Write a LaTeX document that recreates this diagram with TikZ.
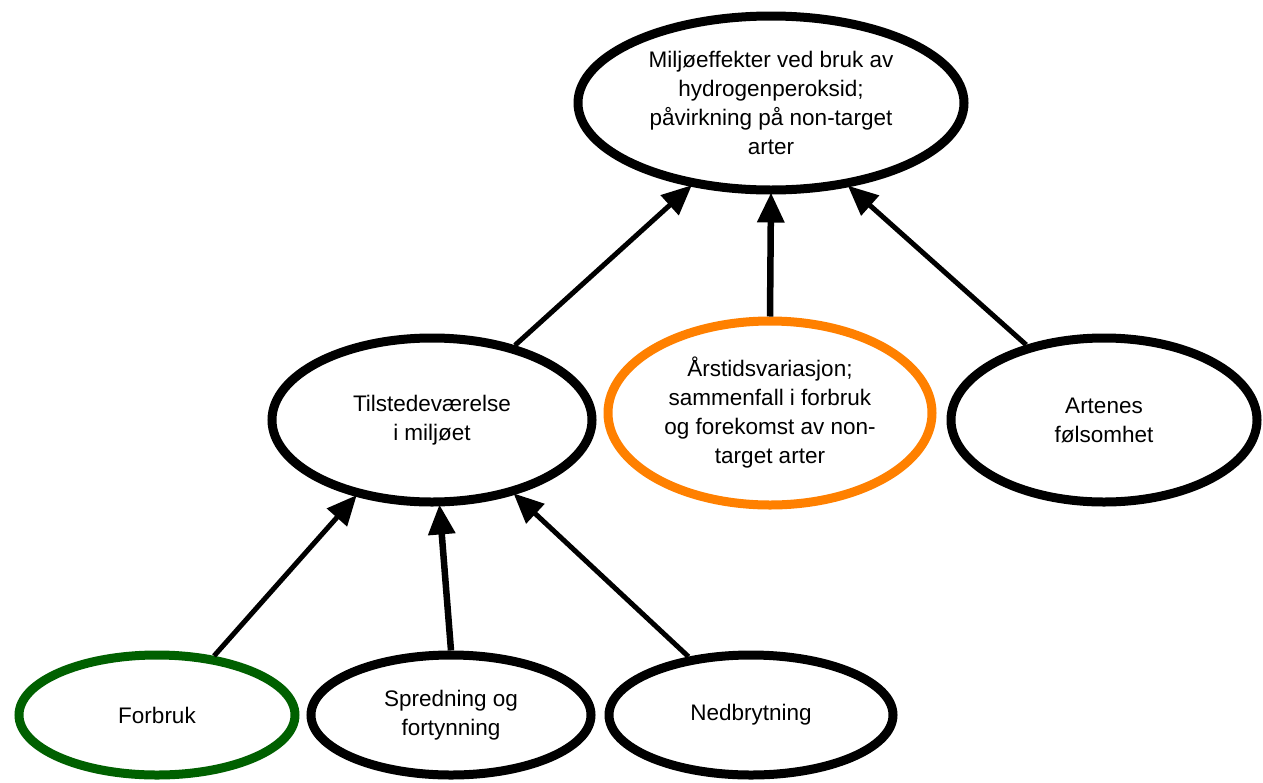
\documentclass[tikz,border=0pt]{standalone}
\usepackage{fontspec}
\setmainfont{Liberation Sans}
\usetikzlibrary{shapes.geometric,arrows.meta}
\definecolor{ringorange}{RGB}{255,128,0}
\definecolor{ringgreen}{RGB}{0,96,0}
\tikzset{
  bubble/.style={ellipse, draw=black, line width=9pt, fill=white, inner sep=0pt, align=center,
    font=\fontsize{22.5}{29}\selectfont},
  link/.style={line width=5pt, -{Triangle[length=30pt,width=26pt]}, shorten >=-2pt},
  thicklink/.style={link, line width=6.5pt},
}
\begin{document}
\begin{tikzpicture}[x=1pt,y=-1pt]
\useasboundingbox (0,0) rectangle (1263,782);
\node[bubble, minimum width=386pt, minimum height=174pt] (top) at (771,103)
  {Miljøeffekter ved bruk av\\hydrogenperoksid;\\påvirkning på non-target\\arter};
\node[bubble, minimum width=320pt, minimum height=164pt] (tilst) at (432,420)
  {Tilstedeværelse\\i miljøet};
\node[bubble, draw=ringorange, minimum width=324pt, minimum height=184pt] (ars) at (770,413)
  {Årstidsvariasjon;\\sammenfall i forbruk\\og forekomst av non-\\target arter};
\node[bubble, minimum width=306pt, minimum height=164pt] (artenes) at (1104,420)
  {Artenes\\følsomhet};
\node[bubble, draw=ringgreen, minimum width=276pt, minimum height=120pt] (forbruk) at (157,715)
  {Forbruk};
\node[bubble, minimum width=280pt, minimum height=120pt] (spredning) at (451,715)
  {Spredning og\\fortynning};
\node[bubble, minimum width=284pt, minimum height=120pt] (nedbrytning) at (751,715)
  {Nedbrytning};
\draw[link] (tilst.42) -- (top.226);
\draw[thicklink] (ars.90) -- (top.270);
\draw[link] (artenes.136) -- (top.313);
\draw[link] (forbruk.46) -- (tilst.225);
\draw[thicklink] (spredning.90) -- (tilst.275);
\draw[link] (nedbrytning.137) -- (tilst.318);
\end{tikzpicture}
\end{document}
